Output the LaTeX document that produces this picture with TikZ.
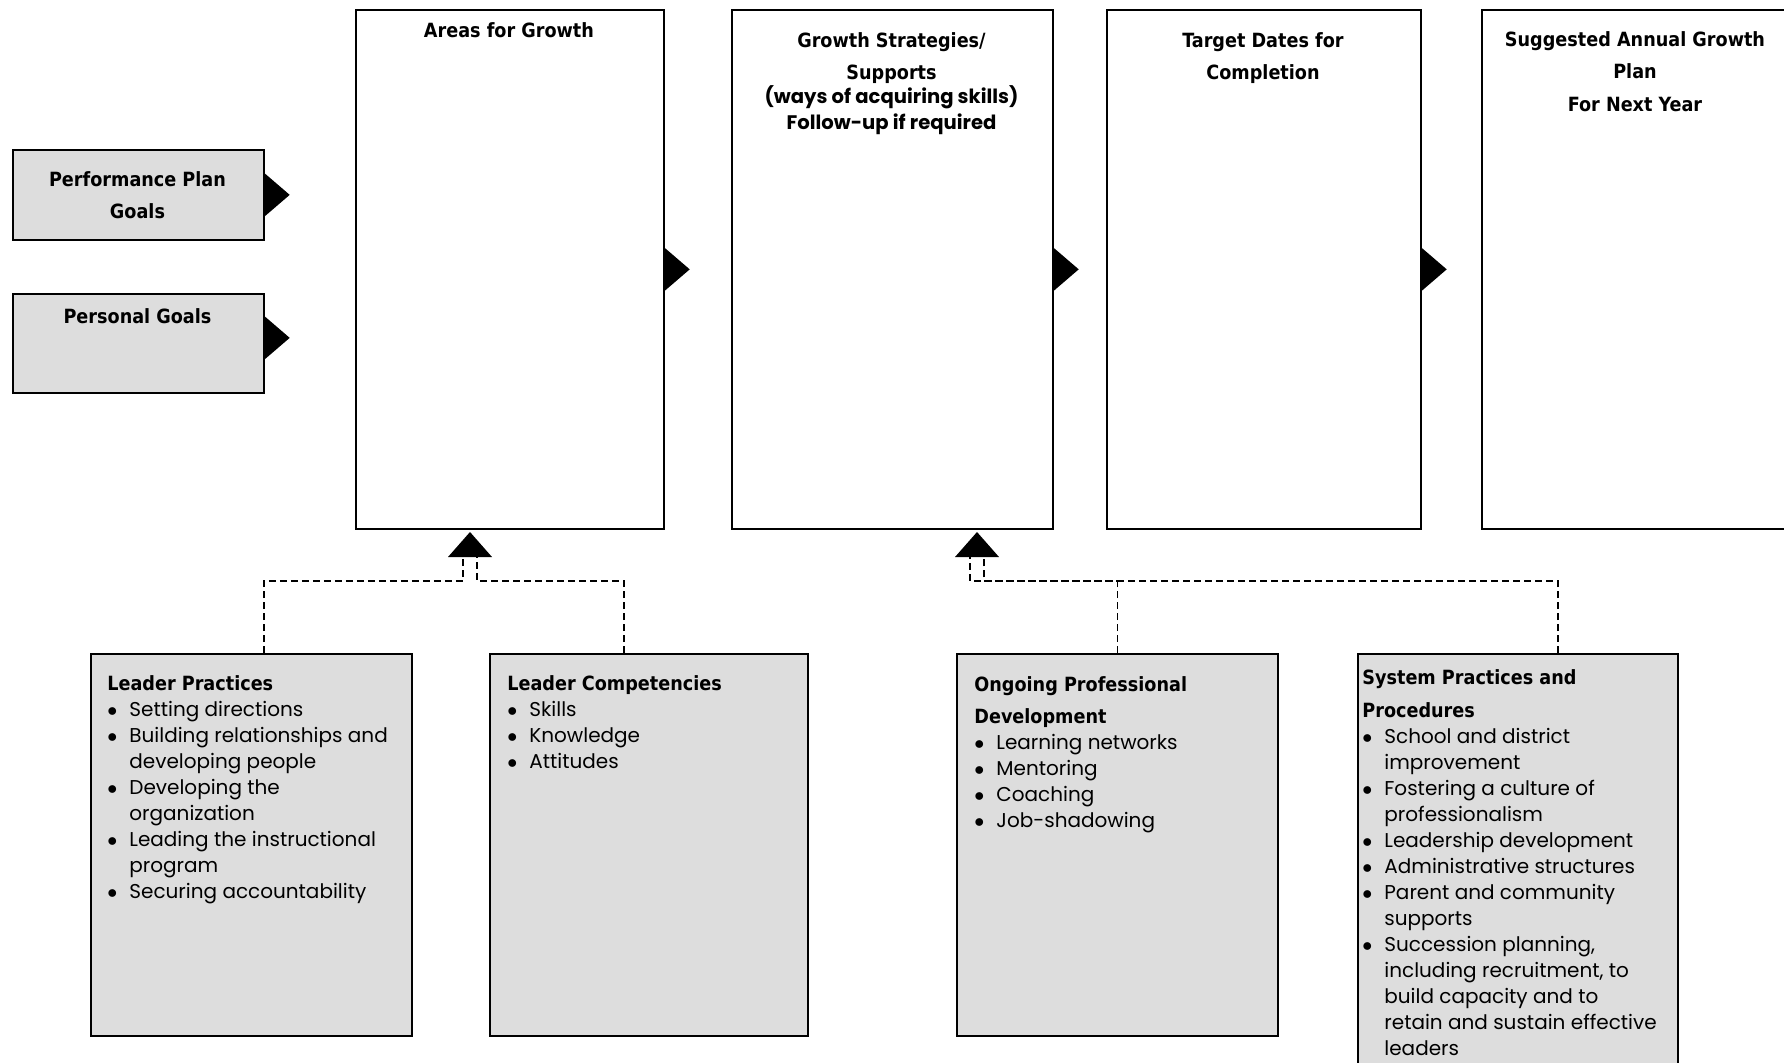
\documentclass[tikz,border=0pt]{standalone}
\usepackage{fontspec}
\setmainfont{Poppins}
\newfontfamily\headfont{DejaVu Sans Condensed}
\definecolor{panel}{RGB}{221,221,221}
\newcommand\bul{\makebox[11pt][l]{$\bullet$}}
\newcommand\ind{\hspace*{11pt}}
\newcommand\hd[1]{{\headfont\bfseries\fontsize{9.8}{16}\selectfont #1}}

\begin{document}
\begin{tikzpicture}[x=0.5pt,y=-0.5pt,
  box/.style={draw,line width=0.85pt,inner sep=0pt,anchor=north west},
  plain/.style={box,fill=white},
  shaded/.style={box,fill=panel},
  link/.style={draw,line width=0.65pt,dash pattern=on 3.5pt off 2pt},
  head/.style={font=\headfont\bfseries\fontsize{9.8}{16}\selectfont,align=center,inner sep=0pt,anchor=base},
  sub/.style={font=\bfseries\fontsize{9.8}{13}\selectfont,align=center,inner sep=0pt,anchor=base},
  list/.style={font=\fontsize{10}{13}\selectfont,align=left,inner sep=0pt,anchor=base west}]
  \useasboundingbox (0,0) rectangle (1784,1062);

  % top row
  \node[plain,minimum width=154pt,minimum height=259.5pt]   (areas)  at (355,9)  {};
  \node[plain,minimum width=160.5pt,minimum height=259.5pt] (strat)  at (731,9)  {};
  \node[plain,minimum width=157pt,minimum height=259.5pt]   (dates)  at (1106,9) {};
  \node[plain,minimum width=154pt,minimum height=259.5pt]   (annual) at (1481,9) {};

  % goals on the left
  \node[shaded,minimum width=125.5pt,minimum height=45pt]   (perf) at (12,149) {};
  \node[shaded,minimum width=125.5pt,minimum height=49.5pt] (pers) at (12,293) {};

  % sources below
  \node[shaded,minimum width=160.5pt,minimum height=191pt] (lp)  at (90,653)   {};
  \node[shaded,minimum width=159pt,minimum height=191pt]   (lc)  at (489,653)  {};
  \node[shaded,minimum width=160.5pt,minimum height=191pt] (opd) at (956,653)  {};
  \node[shaded,minimum width=160pt,minimum height=215pt]   (sp)  at (1357,653) {};

  % titles (placed by the baseline of their last line)
  \node[head] (areas-t)  at (509,37)    {Areas for Growth};
  \node[head] (strat-t)  at (891.5,79)  {Growth Strategies/\\Supports};
  \node[sub]  (strat-s)  at (891.5,129) {(ways of acquiring skills)\\Follow-up if required};
  \node[head] (dates-t)  at (1263,79)   {Target Dates for\\Completion};
  \node[head] (annual-t) at (1635,78)   {Suggested Annual Growth\\Plan};
  \node[head] (annual-s) at (1635,111)  {For Next Year};
  \node[head] (perf-t)   at (137.5,218) {Performance Plan\\Goals};
  \node[head] (pers-t)   at (137.5,323) {Personal Goals};

  \node[list] (lp-t) at (107,898) {\hd{Leader Practices}\\
    \bul Setting directions\\
    \bul Building relationships and\\
    \ind developing people\\
    \bul Developing the\\
    \ind organization\\
    \bul Leading the instructional\\
    \ind program\\
    \bul Securing accountability};
  \node[list] (lc-t) at (507,768) {\hd{Leader Competencies}\\
    \bul Skills\\
    \bul Knowledge\\
    \bul Attitudes};
  \node[list] (opd-t) at (974,827) {\hd{Ongoing Professional}\\[3pt]
    \hd{Development}\\
    \bul Learning networks\\
    \bul Mentoring\\
    \bul Coaching\\
    \bul Job-shadowing};
  \node[list] (sp-t) at (1362,1055) {\hd{System Practices and}\\[3.5pt]
    \hd{Procedures}\\
    \bul School and district\\
    \ind improvement\\
    \bul Fostering a culture of\\
    \ind professionalism\\
    \bul Leadership development\\
    \bul Administrative structures\\
    \bul Parent and community\\
    \ind supports\\
    \bul Succession planning,\\
    \ind including recruitment, to\\
    \ind build capacity and to\\
    \ind retain and sustain effective\\
    \ind leaders};

  % pointers to the right
  \foreach \b/\s in {perf/0,pers/2.75,areas/0,strat/0,dates/0}
    \fill ([yshift=\s pt]\b.east) ++(0,-21.5) -- ++(25,21.5) -- ++(-25,21.5) -- cycle;

  % pointers up
  \coordinate (up1) at (470,557);
  \coordinate (up2) at (977,557);
  \fill (up1) ++(-22,0) -- ++(22,-25) -- ++(22,25) -- cycle;
  \fill (up2) ++(-22,0) -- ++(22,-25) -- ++(22,25) -- cycle;

  \draw[link] ([xshift=6.25pt]lp.north) -- ++(0,-72) -| ([xshift=-3.5pt]up1);
  \draw[link] ([xshift=-12.5pt]lc.north) -- ++(0,-72) -| ([xshift=3.5pt]up1);
  \draw[link] (opd.north) -- ++(0,-72) -| ([xshift=3.5pt]up2);
  \draw[link] ([xshift=20pt]sp.north) -- ++(0,-72) -| ([xshift=-3.5pt]up2);
\end{tikzpicture}
\end{document}
